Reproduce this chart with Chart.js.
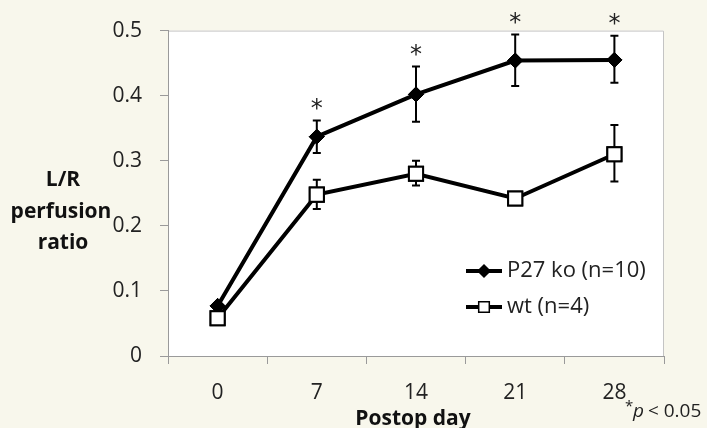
<!DOCTYPE html>
<html>
<head>
<meta charset="utf-8">
<script src="https://cdn.jsdelivr.net/npm/chart.js@4"></script>
<style>
  html, body { margin: 0; padding: 0; background: #f8f7ec; }
  #wrap { width: 707px; height: 428px; }
</style>
</head>
<body>
<div id="wrap"><canvas id="chart" width="707" height="428"></canvas></div>
<script>
// data
const days = ['0', '7', '14', '21', '28'];
const koMean = [0.077, 0.337, 0.402, 0.454, 0.455];
const koHigh = [null, 0.362, 0.445, 0.494, 0.492];
const koLow  = [null, 0.312, 0.36, 0.415, 0.42];
const wtMean = [0.058, 0.248, 0.28, 0.242, 0.31];
const wtHigh = [null, 0.271, 0.30, null, 0.355];
const wtLow  = [null, 0.226, 0.262, null, 0.268];
const starAt = [false, true, true, true, true];
const yTicks = [0, 0.1, 0.2, 0.3, 0.4, 0.5];

const FONT = '"Open Sans", Lato, sans-serif';

const extras = {
  id: 'extras',
  beforeDraw(chart) {
    const {ctx, chartArea: a} = chart;
    ctx.save();
    ctx.fillStyle = '#f8f7ec';
    ctx.fillRect(0, 0, chart.width, chart.height);
    ctx.fillStyle = '#ffffff';
    ctx.fillRect(a.left, a.top, a.right - a.left, a.bottom - a.top);
    ctx.strokeStyle = '#c4c4c4';
    ctx.lineWidth = 1;
    ctx.beginPath();
    ctx.moveTo(a.left, a.top + 0.5);
    ctx.lineTo(a.right - 0.5, a.top + 0.5);
    ctx.lineTo(a.right - 0.5, a.bottom);
    ctx.stroke();
    ctx.restore();
  },
  afterDatasetsDraw(chart) {
    const {ctx} = chart;
    const xs = chart.scales.x, ys = chart.scales.y;
    ctx.save();
    // error bars
    const bars = [[koHigh, koLow], [wtHigh, wtLow]];
    ctx.strokeStyle = '#000';
    ctx.lineWidth = 2;
    bars.forEach(function(b) {
      for (let i = 0; i < days.length; i++) {
        if (b[0][i] == null) continue;
        const x = xs.getPixelForValue(i);
        const y1 = ys.getPixelForValue(b[0][i]);
        const y2 = ys.getPixelForValue(b[1][i]);
        ctx.beginPath();
        ctx.moveTo(x, y1); ctx.lineTo(x, y2);
        ctx.moveTo(x - 4, y1); ctx.lineTo(x + 4, y1);
        ctx.moveTo(x - 4, y2); ctx.lineTo(x + 4, y2);
        ctx.stroke();
      }
    });
    // redraw markers over error bars
    chart.getDatasetMeta(0).data.forEach(p => p.draw(ctx));
    chart.getDatasetMeta(1).data.forEach(p => p.draw(ctx));

    // significance stars
    ctx.fillStyle = '#222';
    ctx.font = '24px "DejaVu Sans", sans-serif';
    ctx.textAlign = 'center';
    ctx.textBaseline = 'middle';
    for (let i = 0; i < days.length; i++) {
      if (!starAt[i]) continue;
      const x = xs.getPixelForValue(i);
      const y = ys.getPixelForValue(koHigh[i]);
      ctx.fillText('*', x, y - 11);
    }

    // legend
    const items = [
      {label: 'P27 ko (n=10)', style: 'rectRot', r: 6, fill: '#000', y: 271},
      {label: 'wt (n=4)', style: 'rect', r: 7.5, fill: '#fff', y: 307}
    ];
    items.forEach(function(it) {
      ctx.strokeStyle = '#000';
      ctx.lineWidth = 4;
      ctx.beginPath();
      ctx.moveTo(466, it.y); ctx.lineTo(502, it.y);
      ctx.stroke();
      ctx.fillStyle = it.fill;
      ctx.lineWidth = 1.5;
      Chart.helpers.drawPoint(ctx, {pointStyle: it.style, radius: it.r, borderWidth: 1.5}, 484, it.y);
      ctx.fillStyle = '#222';
      ctx.font = '22px ' + FONT;
      ctx.textAlign = 'left';
      ctx.textBaseline = 'middle';
      ctx.fillText(it.label, 507, it.y);
    });

    // axis titles and note
    ctx.fillStyle = '#111';
    ctx.font = 'bold 21px ' + FONT;
    ctx.textAlign = 'center';
    ctx.textBaseline = 'middle';
    ctx.fillText('L/R', 63, 180);
    ctx.fillText('perfusion', 61, 212);
    ctx.fillText('ratio', 63, 243);
    ctx.fillText('Postop day', 413, 419);

    ctx.textAlign = 'left';
    ctx.fillStyle = '#222';
    ctx.font = '15px ' + FONT;
    ctx.fillText('*', 625, 407);
    ctx.font = 'italic 19px ' + FONT;
    ctx.fillText('p', 633, 412);
    ctx.font = '19px ' + FONT;
    ctx.fillText(' < 0.05', 643, 412);
    ctx.restore();
  }
};

new Chart(document.getElementById('chart'), {
  type: 'line',
  data: {
    labels: days,
    datasets: [
      {
        label: 'P27 ko (n=10)',
        data: koMean,
        borderColor: '#000',
        borderWidth: 4,
        pointStyle: 'rectRot',
        pointRadius: 7.5,
        pointBackgroundColor: '#000',
        pointBorderColor: '#000',
        pointBorderWidth: 1,
        tension: 0
      },
      {
        label: 'wt (n=4)',
        data: wtMean,
        borderColor: '#000',
        borderWidth: 4,
        pointStyle: 'rect',
        pointRadius: 10,
        pointBackgroundColor: '#fff',
        pointBorderColor: '#000',
        pointBorderWidth: 2,
        tension: 0
      }
    ]
  },
  options: {
    responsive: false,
    animation: false,
    events: [],
    layout: {padding: {left: 0, right: 43, top: 26, bottom: 0}},
    plugins: {legend: {display: false}, tooltip: {enabled: false}},
    scales: {
      x: {
        offset: true,
        grid: {offset: true, drawOnChartArea: false, tickLength: 8, color: '#9a9a9a', lineWidth: 1},
        border: {color: '#9a9a9a', width: 1},
        ticks: {font: {family: FONT, size: 21}, color: '#222', padding: 16, maxRotation: 0},
        afterFit(s) { s.height = 72; }
      },
      y: {
        min: 0,
        max: 0.5,
        afterBuildTicks(s) { s.ticks = yTicks.map(v => ({value: v})); },
        grid: {drawOnChartArea: false, tickLength: 8, color: '#9a9a9a', lineWidth: 1},
        border: {color: '#9a9a9a', width: 1},
        ticks: {
          font: {family: FONT, size: 21}, color: '#222', padding: 18,
          callback: v => String(Math.round(v * 10) / 10)
        },
        afterFit(s) { s.width = 168; }
      }
    }
  },
  plugins: [extras]
});
</script>
</body>
</html>
